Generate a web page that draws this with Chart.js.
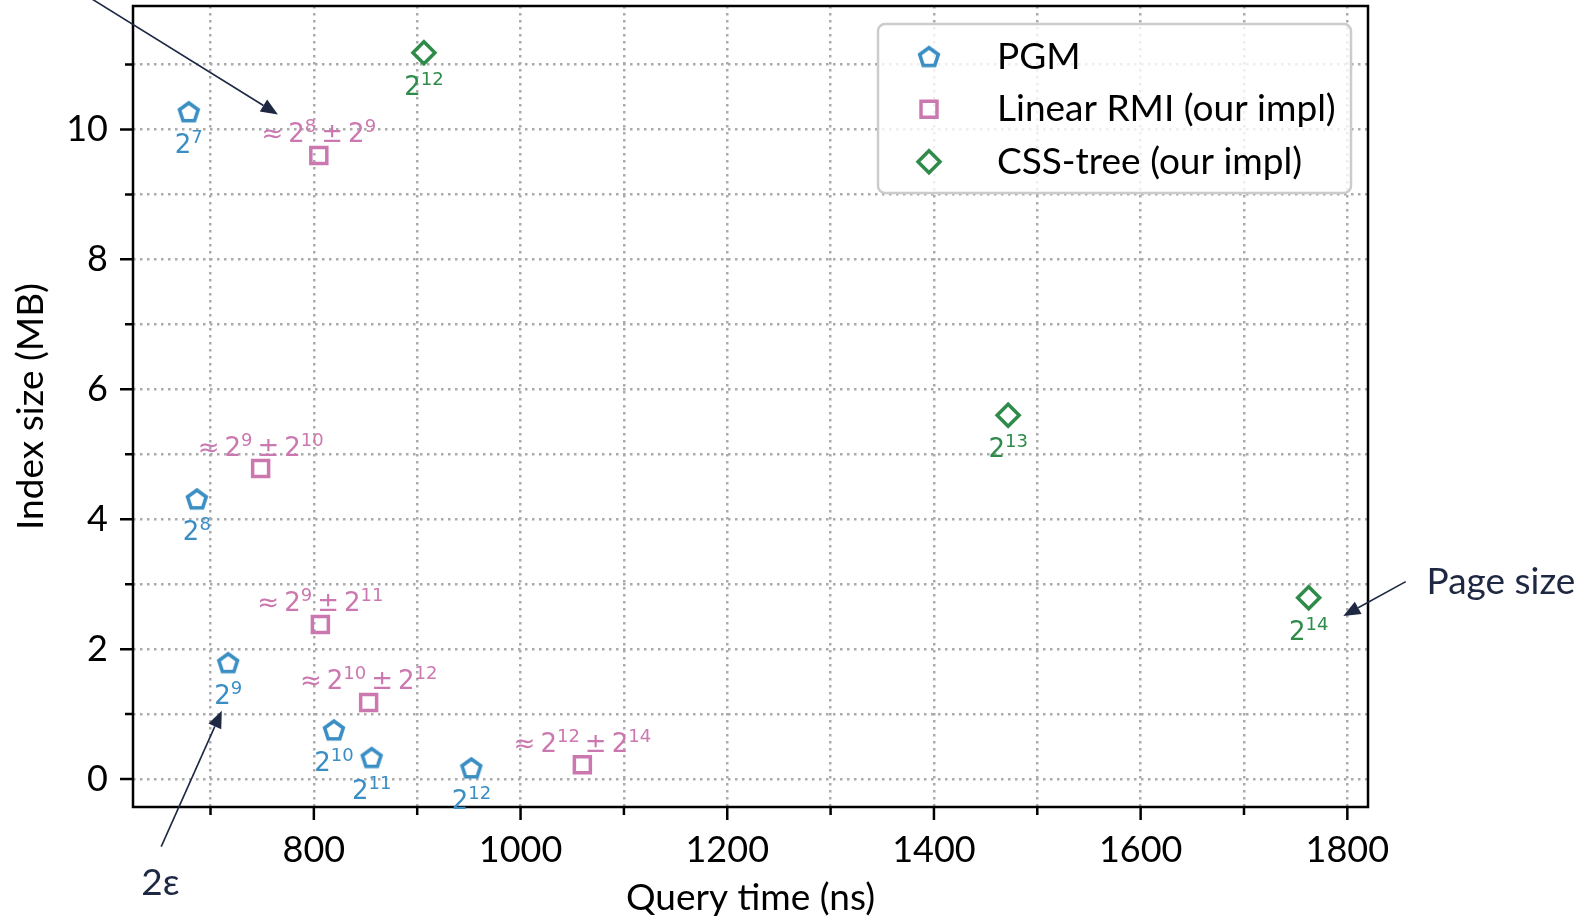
<!DOCTYPE html>
<html>
<head>
<meta charset="utf-8">
<script src="https://cdn.jsdelivr.net/npm/chart.js@4.4.1/dist/chart.umd.min.js"></script>
<style>
html, body { margin: 0; padding: 0; background: #fff; }
canvas { display: block; }
</style>
</head>
<body>
<canvas id="indexChart" width="1587" height="917"></canvas>
<script>
// query time (ns) and index size (MB) per configuration
var pgmTime = [679, 686.8, 717.1, 819.4, 855.9, 952.4];
var pgmSize = [10.27, 4.31, 1.79, 0.754, 0.33, 0.17];
var pgmExp = ['7', '8', '9', '10', '11', '12'];

var rmiTime = [804.8, 748.5, 806.3, 853, 1059.8];
var rmiSize = [9.6, 4.78, 2.38, 1.18, 0.22];
var rmiExp = [['8', '9'], ['9', '10'], ['9', '11'], ['10', '12'], ['12', '14']];

var cssTime = [906.5, 1471.8, 1762.6];
var cssSize = [11.18, 5.6, 2.79];
var cssExp = ['12', '13', '14'];

var xTicks = [700, 800, 900, 1000, 1100, 1200, 1300, 1400, 1500, 1600, 1700, 1800];
var xLabels = [800, 1000, 1200, 1400, 1600, 1800];
var yTicks = [0, 1, 2, 3, 4, 5, 6, 7, 8, 9, 10, 11];
var yLabels = [0, 2, 4, 6, 8, 10];

var BLUE = '#3a8ec4';
var PINK = '#cc78b0';
var GREEN = '#2e8b4a';
var NAVY = '#1e2843';

// pentagon marker, drawn once into a small canvas
function pentagon(color) {
    var c = document.createElement('canvas');
    c.width = 32; c.height = 32;
    var g = c.getContext('2d');
    g.strokeStyle = color;
    g.lineWidth = 3.6;
    g.beginPath();
    for (var i = 0; i < 5; i++) {
        var a = -Math.PI / 2 + i * 2 * Math.PI / 5;
        var px = 16 + 9.8 * Math.cos(a), py = 16.8 + 9.8 * Math.sin(a);
        if (i) g.lineTo(px, py); else g.moveTo(px, py);
    }
    g.closePath();
    g.stroke();
    return c;
}

function points(xs, ys) {
    return xs.map(function (x, i) { return { x: x, y: ys[i] }; });
}

// text with superscripts: segments {t, sup} or {gap}
function drawPow(ctx, segs, cx, base, color) {
    var main = '26px "DejaVu Sans"', sup = '18px "DejaVu Sans"';
    var w = 0;
    segs.forEach(function (s) {
        if (s.gap) { w += s.gap; return; }
        ctx.font = s.sup ? sup : main;
        w += ctx.measureText(s.t).width;
    });
    var x = cx - w / 2;
    ctx.fillStyle = color;
    ctx.textAlign = 'left';
    ctx.textBaseline = 'alphabetic';
    segs.forEach(function (s) {
        if (s.gap) { x += s.gap; return; }
        ctx.font = s.sup ? sup : main;
        ctx.fillText(s.t, x, s.sup ? base - 10 : base);
        x += ctx.measureText(s.t).width;
    });
}

function arrow(ctx, x1, y1, x2, y2) {
    var ang = Math.atan2(y2 - y1, x2 - x1);
    var len = 17, hw = 7;
    var bx = x2 - len * Math.cos(ang), by = y2 - len * Math.sin(ang);
    ctx.strokeStyle = NAVY;
    ctx.fillStyle = NAVY;
    ctx.lineWidth = 1.6;
    ctx.beginPath();
    ctx.moveTo(x1, y1);
    ctx.lineTo(bx, by);
    ctx.stroke();
    ctx.beginPath();
    ctx.moveTo(x2, y2);
    ctx.lineTo(bx + hw * Math.sin(ang), by - hw * Math.cos(ang));
    ctx.lineTo(bx - hw * Math.sin(ang), by + hw * Math.cos(ang));
    ctx.closePath();
    ctx.fill();
}

// annotation anchors in data coordinates (time, size)
var notes = [
    { tail: [556.7, 12.29], tip: [765.2, 10.23] },
    { tail: [652.3, -1.04], tip: [710.9, 1.05], text: '2ε', at: [651.6, -1.6], align: 'center' },
    { tail: [1856.5, 3.04], tip: [1796.1, 2.51], text: 'Page size', at: [1876.7, 3.03], align: 'left' }
];

var extras = {
    id: 'extras',
    afterDatasetsDraw: function (chart) {
        var ctx = chart.ctx, a = chart.chartArea;
        var xs = chart.scales.x, ys = chart.scales.y;
        ctx.save();

        // frame and tick marks
        ctx.strokeStyle = '#000';
        ctx.lineWidth = 2.5;
        ctx.strokeRect(a.left, a.top, a.right - a.left, a.bottom - a.top);
        ctx.beginPath();
        xTicks.forEach(function (v) {
            var px = xs.getPixelForValue(v);
            var len = xLabels.indexOf(v) >= 0 ? 13 : 8;
            ctx.moveTo(px, a.bottom);
            ctx.lineTo(px, a.bottom + len);
        });
        yTicks.forEach(function (v) {
            var py = ys.getPixelForValue(v);
            var len = yLabels.indexOf(v) >= 0 ? 13 : 8;
            ctx.moveTo(a.left, py);
            ctx.lineTo(a.left - len, py);
        });
        ctx.stroke();

        // point labels
        var m0 = chart.getDatasetMeta(0).data;
        pgmExp.forEach(function (e, i) {
            drawPow(ctx, [{ t: '2' }, { t: e, sup: true }], m0[i].x, m0[i].y + 41, BLUE);
        });
        var m1 = chart.getDatasetMeta(1).data;
        rmiExp.forEach(function (e, i) {
            drawPow(ctx, [{ t: '≈' }, { gap: 5 }, { t: '2' }, { t: e[0], sup: true }, { gap: 5 },
                { t: '±' }, { gap: 5 }, { t: '2' }, { t: e[1], sup: true }], m1[i].x, m1[i].y - 13, PINK);
        });
        var m2 = chart.getDatasetMeta(2).data;
        cssExp.forEach(function (e, i) {
            drawPow(ctx, [{ t: '2' }, { t: e, sup: true }], m2[i].x, m2[i].y + 42, GREEN);
        });

        // arrows and notes
        notes.forEach(function (n) {
            arrow(ctx, xs.getPixelForValue(n.tail[0]), ys.getPixelForValue(n.tail[1]),
                xs.getPixelForValue(n.tip[0]), ys.getPixelForValue(n.tip[1]));
            if (n.text) {
                ctx.font = '37px Lato';
                ctx.fillStyle = NAVY;
                ctx.textAlign = n.align;
                ctx.textBaseline = 'middle';
                ctx.fillText(n.text, xs.getPixelForValue(n.at[0]), ys.getPixelForValue(n.at[1]));
            }
        });
        ctx.restore();
    },
    afterDraw: function (chart) {
        var ctx = chart.ctx;
        ctx.save();
        // legend box
        var bx = 878, by = 24, bw = 473, bh = 169, r = 7;
        ctx.beginPath();
        ctx.moveTo(bx + r, by);
        ctx.arcTo(bx + bw, by, bx + bw, by + bh, r);
        ctx.arcTo(bx + bw, by + bh, bx, by + bh, r);
        ctx.arcTo(bx, by + bh, bx, by, r);
        ctx.arcTo(bx, by, bx + bw, by, r);
        ctx.closePath();
        ctx.fillStyle = 'rgba(255,255,255,0.8)';
        ctx.fill();
        ctx.strokeStyle = '#cccccc';
        ctx.lineWidth = 2.5;
        ctx.stroke();

        chart.data.datasets.forEach(function (ds, i) {
            var y = 56.7 + i * 52.5;
            ctx.strokeStyle = ds.borderColor;
            ctx.fillStyle = 'rgba(0,0,0,0)';
            ctx.lineWidth = ds.pointBorderWidth;
            Chart.helpers.drawPoint(ctx, {
                pointStyle: ds.pointStyle, radius: ds.pointRadius,
                borderWidth: ds.pointBorderWidth, rotation: 0
            }, 929, y);
            ctx.font = '37px Lato';
            ctx.fillStyle = '#000';
            ctx.textAlign = 'left';
            ctx.textBaseline = 'middle';
            ctx.fillText(ds.label, 997, y);
        });
        ctx.restore();
    }
};

var ctx = document.getElementById('indexChart').getContext('2d');
var chart = new Chart(ctx, {
    type: 'scatter',
    data: {
        datasets: [
            {
                label: 'PGM',
                data: points(pgmTime, pgmSize),
                pointStyle: pentagon(BLUE),
                pointRadius: 11,
                pointBorderWidth: 3.5,
                borderColor: BLUE,
                backgroundColor: 'rgba(0,0,0,0)'
            },
            {
                label: 'Linear RMI (our impl)',
                data: points(rmiTime, rmiSize),
                pointStyle: 'rect',
                pointRadius: 11.3,
                pointBorderWidth: 3.5,
                borderColor: PINK,
                backgroundColor: 'rgba(0,0,0,0)'
            },
            {
                label: 'CSS-tree (our impl)',
                data: points(cssTime, cssSize),
                pointStyle: 'rectRot',
                pointRadius: 11,
                pointBorderWidth: 3.5,
                borderColor: GREEN,
                backgroundColor: 'rgba(0,0,0,0)'
            }
        ]
    },
    options: {
        responsive: false,
        animation: false,
        layout: { autoPadding: false, padding: { top: 6, right: 219, bottom: 0, left: 0 } },
        plugins: {
            legend: { display: false },
            tooltip: { enabled: false }
        },
        scales: {
            x: {
                type: 'linear',
                min: 625,
                max: 1820,
                afterBuildTicks: function (scale) {
                    scale.ticks = xTicks.map(function (v) { return { value: v }; });
                },
                afterFit: function (scale) {
                    scale.height = 110;
                    scale.paddingLeft = 0;
                    scale.paddingRight = 0;
                },
                grid: { color: '#aaaaaa', lineWidth: 2.5, drawTicks: false },
                border: { display: false, dash: [2.5, 4.5] },
                ticks: {
                    autoSkip: false,
                    maxRotation: 0,
                    padding: 22,
                    color: '#000',
                    font: { family: 'Lato', size: 36 },
                    callback: function (v) { return xLabels.indexOf(v) >= 0 ? String(v) : ''; }
                },
                title: {
                    display: true,
                    text: 'Query time (ns)',
                    color: '#000',
                    font: { family: 'Lato', size: 37, lineHeight: 1 },
                    padding: { top: 1, bottom: 0 }
                }
            },
            y: {
                type: 'linear',
                min: -0.43,
                max: 11.9,
                afterBuildTicks: function (scale) {
                    scale.ticks = yTicks.map(function (v) { return { value: v }; });
                },
                afterFit: function (scale) {
                    scale.width = 133;
                    scale.paddingTop = 0;
                    scale.paddingBottom = 0;
                },
                grid: { color: '#aaaaaa', lineWidth: 2.5, drawTicks: false },
                border: { display: false, dash: [2.5, 4.5] },
                ticks: {
                    autoSkip: false,
                    padding: 25,
                    color: '#000',
                    font: { family: 'Lato', size: 36 },
                    callback: function (v) { return yLabels.indexOf(v) >= 0 ? String(v) : ''; }
                },
                title: {
                    display: true,
                    text: 'Index size (MB)',
                    color: '#000',
                    font: { family: 'Lato', size: 37, lineHeight: 1 },
                    padding: { top: 13, bottom: 0 }
                }
            }
        }
    },
    plugins: [extras]
});
</script>
</body>
</html>
